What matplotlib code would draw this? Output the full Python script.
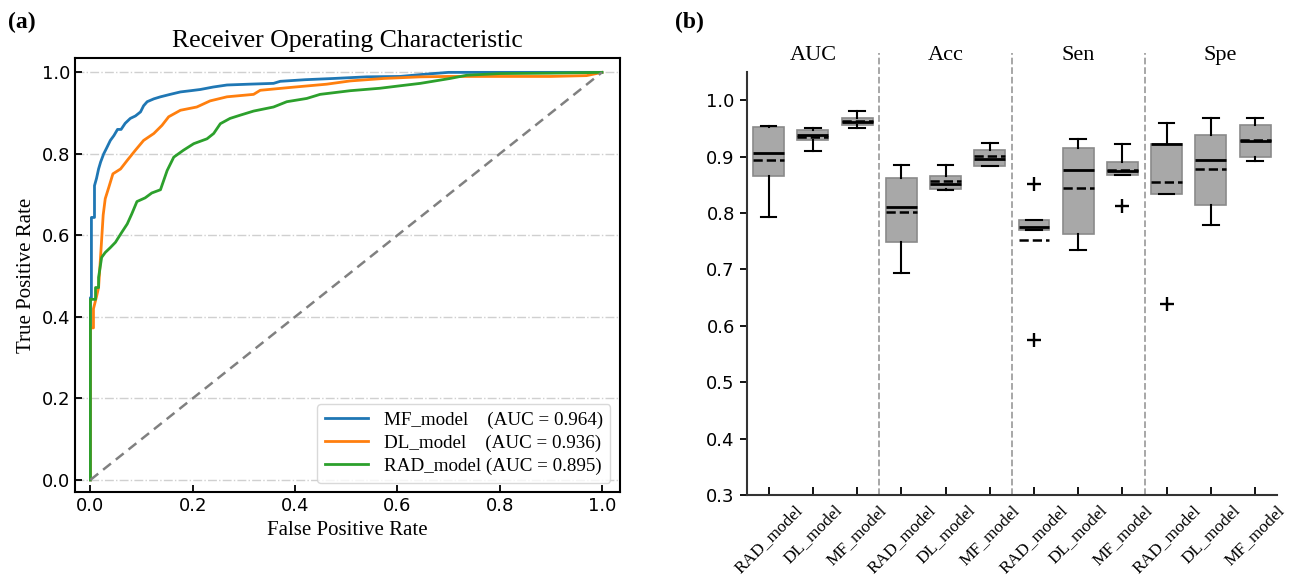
import matplotlib
matplotlib.use("Agg")
import matplotlib.pyplot as plt
import numpy as np

# ROC curves
mf_fpr = [0, 0, 0.002, 0.002, 0.008, 0.008, 0.012, 0.016, 0.02, 0.026, 0.032, 0.039, 0.046, 0.053, 0.06,
          0.068, 0.078, 0.088, 0.098, 0.104, 0.111, 0.124, 0.137, 0.156, 0.176, 0.196, 0.215, 0.24, 0.267,
          0.31, 0.358, 0.371, 0.42, 0.475, 0.54, 0.605, 0.65, 0.70, 0.8, 0.9, 1.0]
mf_tpr = [0, 0.447, 0.447, 0.644, 0.644, 0.722, 0.74, 0.763, 0.78, 0.80, 0.815, 0.833, 0.845, 0.86, 0.86,
          0.875, 0.887, 0.893, 0.903, 0.918, 0.928, 0.935, 0.94, 0.946, 0.952, 0.955, 0.958, 0.964, 0.969,
          0.971, 0.973, 0.978, 0.982, 0.985, 0.989, 0.99, 0.995, 1.0, 1.0, 1.0, 1.0]
dl_fpr = [0, 0, 0.006, 0.006, 0.012, 0.016, 0.02, 0.025, 0.029, 0.036, 0.044, 0.059, 0.072, 0.088, 0.104,
          0.124, 0.14, 0.153, 0.176, 0.208, 0.234, 0.267, 0.319, 0.332, 0.391, 0.462, 0.508, 0.573, 0.645,
          0.70, 0.8, 0.9, 0.97, 1.0]
dl_tpr = [0, 0.373, 0.373, 0.42, 0.45, 0.472, 0.55, 0.65, 0.69, 0.718, 0.751, 0.763, 0.784, 0.809, 0.833,
          0.85, 0.87, 0.891, 0.907, 0.915, 0.93, 0.94, 0.946, 0.956, 0.963, 0.971, 0.979, 0.985, 0.989,
          0.99, 0.99, 0.99, 0.992, 1.0]
rad_fpr = [0, 0, 0.01, 0.01, 0.016, 0.016, 0.022, 0.029, 0.039, 0.049, 0.059, 0.072, 0.081, 0.091, 0.107,
           0.12, 0.137, 0.15, 0.163, 0.182, 0.202, 0.228, 0.241, 0.254, 0.273, 0.293, 0.319, 0.358, 0.384,
           0.423, 0.449, 0.508, 0.566, 0.605, 0.645, 0.703, 0.736, 0.8, 0.9, 1.0]
rad_tpr = [0, 0.443, 0.443, 0.472, 0.472, 0.497, 0.546, 0.558, 0.57, 0.583, 0.603, 0.628, 0.653, 0.683, 0.692,
           0.704, 0.712, 0.759, 0.792, 0.809, 0.825, 0.837, 0.85, 0.874, 0.887, 0.895, 0.905, 0.915, 0.928,
           0.936, 0.946, 0.955, 0.961, 0.967, 0.973, 0.985, 0.993, 0.997, 0.998, 1.0]
roc_labels = ["MF_model    (AUC = 0.964)", "DL_model    (AUC = 0.936)", "RAD_model (AUC = 0.895)"]
roc_colors = ["#1f77b4", "#ff7f0e", "#2ca02c"]

# box plot summaries for panel (b), order: AUC, Acc, Sen, Spe x RAD, DL, MF
metrics = ["AUC", "Acc", "Sen", "Spe"]
models = ["RAD_model", "DL_model", "MF_model"]
whislo = [0.793, 0.910, 0.950, 0.694, 0.841, 0.884, 0.770, 0.734, 0.868, 0.834, 0.778, 0.893]
q1 = [0.866, 0.929, 0.956, 0.748, 0.842, 0.884, 0.770, 0.763, 0.868, 0.834, 0.815, 0.899]
med = [0.906, 0.938, 0.962, 0.811, 0.852, 0.895, 0.776, 0.876, 0.875, 0.922, 0.894, 0.928]
mean = [0.894, 0.935, 0.963, 0.801, 0.857, 0.902, 0.753, 0.844, 0.876, 0.855, 0.878, 0.929]
q3 = [0.953, 0.947, 0.969, 0.862, 0.866, 0.912, 0.788, 0.916, 0.891, 0.922, 0.938, 0.956]
whishi = [0.955, 0.951, 0.981, 0.886, 0.885, 0.925, 0.788, 0.932, 0.922, 0.959, 0.969, 0.969]
fliers = [[], [], [], [], [], [], [0.851, 0.574], [], [0.812], [0.638], [], []]

serif = "Liberation Serif"

fig = plt.figure(figsize=(12.94, 5.81), dpi=100)

# ---- panel (a)
ax1 = fig.add_axes([0.058, 0.153, 0.421, 0.747])
for fpr, tpr, lab, col in zip([mf_fpr, dl_fpr, rad_fpr], [mf_tpr, dl_tpr, rad_tpr], roc_labels, roc_colors):
    ax1.plot(fpr, tpr, color=col, lw=2, label=lab)
ax1.plot([0, 1], [0, 1], color="gray", ls="--", lw=1.8, dashes=(4, 2.5))
ax1.set_xlim(-0.03, 1.035)
ax1.set_ylim(-0.03, 1.035)
ax1.set_xticks(np.arange(0, 1.01, 0.2))
ax1.set_yticks(np.arange(0, 1.01, 0.2))
ax1.yaxis.grid(True, ls="-.", color="#d0d0d0", lw=1)
ax1.tick_params(direction="in", length=5, width=1.3, labelsize=13)
for s in ax1.spines.values():
    s.set_linewidth(1.5)
ax1.set_title("Receiver Operating Characteristic", fontsize=18.5, family=serif, pad=8)
ax1.set_xlabel("False Positive Rate", fontsize=15, family=serif)
ax1.set_ylabel("True Positive Rate", fontsize=15, family=serif)
ax1.legend(loc="lower right", prop={"family": serif, "size": 13.7}, handlelength=2.3,
           edgecolor="#d0d0d0", borderaxespad=0.5, labelspacing=0.3)
fig.text(0.006, 0.952, "(a)", fontsize=17, fontweight="bold", family=serif)

# ---- panel (b)
ax2 = fig.add_axes([0.577, 0.148, 0.410, 0.728])
stats = []
for i in range(12):
    stats.append(dict(med=med[i], mean=mean[i], q1=q1[i], q3=q3[i],
                      whislo=whislo[i], whishi=whishi[i], fliers=fliers[i]))
pos = np.arange(1, 13)
ax2.bxp(stats, positions=pos, widths=0.7, patch_artist=True, showmeans=True, meanline=True,
        boxprops=dict(facecolor="#a8a8a8", edgecolor="#8a8a8a", lw=1.2),
        medianprops=dict(color="black", lw=2),
        meanprops=dict(color="black", ls="--", lw=1.8),
        whiskerprops=dict(color="black", lw=1.5),
        capprops=dict(color="black", lw=1.5),
        flierprops=dict(marker="+", markeredgecolor="black", markersize=10, mew=1.7))
ax2.set_xlim(0.5, 12.5)
ax2.set_ylim(0.3, 1.05)
ax2.set_yticks(np.arange(0.3, 1.01, 0.1))
ax2.set_yticklabels(["%.1f" % v for v in np.arange(0.3, 1.01, 0.1)])
ax2.set_xticks(pos)
ax2.set_xticklabels(models * 4, rotation=45, family=serif, fontsize=12.5)
ax2.tick_params(axis="y", direction="out", length=5, width=1.3, labelsize=13)
ax2.tick_params(axis="x", direction="in", length=6, width=1.3, pad=5)
ax2.spines["top"].set_visible(False)
ax2.spines["right"].set_visible(False)
for s in ["left", "bottom"]:
    ax2.spines[s].set_linewidth(1.5)
    ax2.spines[s].set_color("#333333")
for xs in [3.5, 6.5, 9.5]:
    ax2.plot([xs, xs], [0.3, 1.084], color="#a0a0a0", ls="--", lw=1.3, clip_on=False)
for k, m in enumerate(metrics):
    ax2.text(2 + 3 * k + (0.2 if k == 3 else 0), 1.04, m, transform=ax2.get_xaxis_transform(),
             ha="center", va="center", family=serif, fontsize=16)
fig.text(0.522, 0.952, "(b)", fontsize=17, fontweight="bold", family=serif)

fig.savefig("out.png", dpi=100)
